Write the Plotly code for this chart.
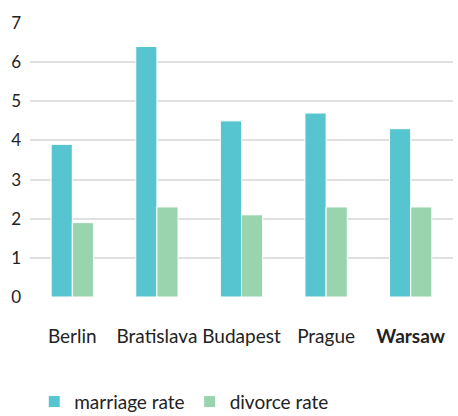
import plotly.graph_objects as go

cities = ["Berlin", "Bratislava", "Budapest", "Prague", "Warsaw"]
city_labels = ["Berlin", "Bratislava", "Budapest", "Prague", "<b>Warsaw</b>"]
marriage_rate = [3.9, 6.4, 4.5, 4.7, 4.3]
divorce_rate = [1.9, 2.3, 2.1, 2.3, 2.3]
y_ticks = [0, 1, 2, 3, 4, 5, 6, 7]

font = "Lato, 'Open Sans', sans-serif"

fig = go.Figure()
fig.add_trace(go.Bar(x=cities, y=marriage_rate, name="marriage rate",
                     marker=dict(color="#57C5D0", line=dict(color="white", width=1))))
fig.add_trace(go.Bar(x=cities, y=divorce_rate, name="divorce rate",
                     marker=dict(color="#9AD4AE", line=dict(color="white", width=1))))

fig.update_layout(
    width=458, height=416,
    margin=dict(l=30, r=5, t=23, b=119),
    paper_bgcolor="white", plot_bgcolor="white",
    barmode="group", bargap=0.5, bargroupgap=0,
    font=dict(family=font, size=16, color="#222222"),
    showlegend=True,
    legend=dict(orientation="h", x=0.01, xanchor="left", yref="container",
                y=0.08, yanchor="top",
                font=dict(size=19, color="#222222"), itemwidth=30, traceorder="normal"),
    xaxis=dict(tickmode="array", tickvals=cities, ticktext=city_labels,
               showgrid=False, zeroline=False, showline=False, ticks="",
               automargin=False, tickangle=0,
               ticklabelstandoff=26, tickfont=dict(size=19)),
    yaxis=dict(range=[0, 7], tickvals=y_ticks, showgrid=True, gridcolor="#E0E0E0",
               gridwidth=2, zeroline=False, showline=False, ticks="",
               automargin=False,
               ticklabelstandoff=8, tickfont=dict(size=17)),
)

fig.write_html("out.html", config={"displayModeBar": False},
               post_script="document.body.style.margin='0';")
